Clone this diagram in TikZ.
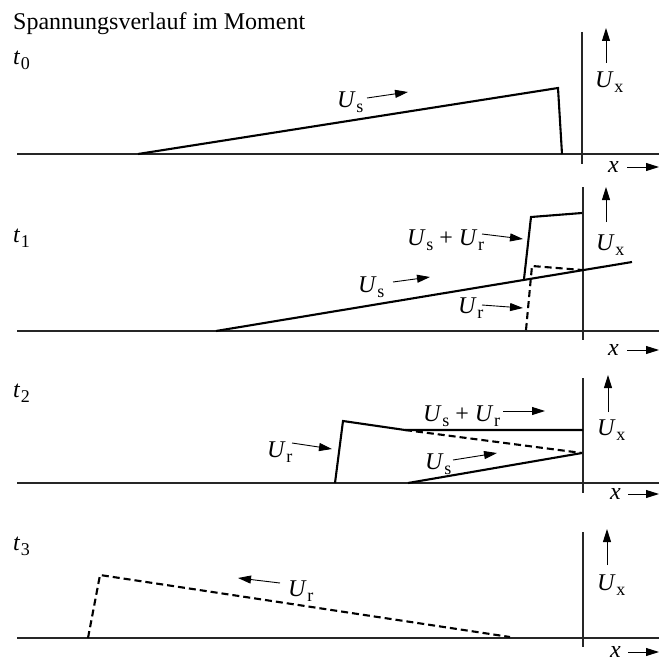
\documentclass[tikz,border=0pt]{standalone}
\usepackage{fontspec}
\setmainfont{Liberation Serif}
\usetikzlibrary{arrows.meta}
\newcommand{\Var}[2]{\textit{#1}\kern0.5pt\raisebox{-5pt}{\fontsize{18}{18}\selectfont #2}}
\begin{document}
\begin{tikzpicture}[x=1pt,y=-1pt,
  axisline/.style={line width=1.1pt, draw=black!85},
  curve/.style={line width=2.1pt, line join=miter},
  dsh/.style={curve, dash pattern=on 7pt off 4pt},
  lab/.style={inner sep=0pt, anchor=base west, font=\fontsize{24}{28}\selectfont},
  arr/.style={line width=0.9pt, -{Triangle[length=13pt,width=8pt]}}]
\useasboundingbox (0,0) rectangle (659,661);

\node[lab] (title) at (13,30) {Spannungsverlauf im Moment};

% ---------- panel t0 ----------
\node[lab] (t0) at (13,65) {\Var{t}{0}};
\coordinate (b0l) at (17,154); \coordinate (b0r) at (659,154);
\draw[axisline] (b0l) -- (b0r);
\coordinate (a0t) at (582,32); \coordinate (a0b) at (582,164);
\draw[axisline] (a0t) -- (a0b);
\coordinate (u0s) at (606,63); \coordinate (u0e) at (606,28);
\draw[arr] (u0s) -- (u0e);
\node[lab] (ux0) at (595,88) {\Var{U}{x}};
\node[lab] (x0) at (608,172) {\textit{x}};
\coordinate (x0s) at (627,167); \coordinate (x0e) at (659,167);
\draw[arr] (x0s) -- (x0e);
\coordinate (p0a) at (138,154); \coordinate (p0b) at (558,88); \coordinate (p0c) at (562,154);
\draw[curve] (p0a) -- (p0b) -- (p0c);
\node[lab] (us0) at (337,107) {\Var{U}{s}};
\coordinate (us0s) at (367,98); \coordinate (us0e) at (408,92);
\draw[arr] (us0s) -- (us0e);

% ---------- panel t1 ----------
\node[lab] (t1) at (13,242) {\Var{t}{1}};
\coordinate (b1l) at (17,331); \coordinate (b1r) at (659,331);
\draw[axisline] (b1l) -- (b1r);
\coordinate (a1t) at (583,187); \coordinate (a1b) at (583,340);
\draw[axisline] (a1t) -- (a1b);
\coordinate (u1s) at (606,222); \coordinate (u1e) at (606,187);
\draw[arr] (u1s) -- (u1e);
\node[lab] (ux1) at (596,250) {\Var{U}{x}};
\node[lab] (x1) at (608,355) {\textit{x}};
\coordinate (x1s) at (627,350); \coordinate (x1e) at (659,350);
\draw[arr] (x1s) -- (x1e);
\coordinate (p1a) at (216,331); \coordinate (p1b) at (632,262);
\draw[curve] (p1a) -- (p1b);
\coordinate (p1c) at (524,279); \coordinate (p1d) at (531,217); \coordinate (p1e) at (582,213);
\draw[curve] (p1c) -- (p1d) -- (p1e);
\coordinate (p1f) at (526,330); \coordinate (p1g) at (532,266); \coordinate (p1h) at (582,270);
\draw[dsh] (p1f) -- (p1g) -- (p1h);
\node[lab] (usr1) at (407,245) {\Var{U}{s} + \Var{U}{r}};
\coordinate (usr1s) at (482,234); \coordinate (usr1e) at (523,239);
\draw[arr] (usr1s) -- (usr1e);
\node[lab] (us1) at (358,292) {\Var{U}{s}};
\coordinate (us1s) at (393,282); \coordinate (us1e) at (430,277);
\draw[arr] (us1s) -- (us1e);
\node[lab] (ur1) at (458,313) {\Var{U}{r}};
\coordinate (ur1s) at (482,305); \coordinate (ur1e) at (523,308);
\draw[arr] (ur1s) -- (ur1e);

% ---------- panel t2 ----------
\node[lab] (t2) at (13,397) {\Var{t}{2}};
\coordinate (b2l) at (17,483); \coordinate (b2r) at (659,483);
\draw[axisline] (b2l) -- (b2r);
\coordinate (a2t) at (583,378); \coordinate (a2b) at (583,493);
\draw[axisline] (a2t) -- (a2b);
\coordinate (u2s) at (608,412); \coordinate (u2e) at (608,375);
\draw[arr] (u2s) -- (u2e);
\node[lab] (ux2) at (597,435) {\Var{U}{x}};
\node[lab] (x2) at (610,499) {\textit{x}};
\coordinate (x2s) at (628,494); \coordinate (x2e) at (659,494);
\draw[arr] (x2s) -- (x2e);
\coordinate (p2a) at (335,483); \coordinate (p2b) at (343,421); \coordinate (p2c) at (405,430); \coordinate (p2d) at (583,430);
\draw[curve] (p2a) -- (p2b) -- (p2c) -- (p2d);
\coordinate (p2e) at (582,453);
\draw[dsh] (p2c) -- (p2e);
\coordinate (p2f) at (408,483);
\draw[curve] (p2f) -- (p2e);
\node[lab] (usr2) at (423,421) {\Var{U}{s} + \Var{U}{r}};
\coordinate (usr2s) at (503,411); \coordinate (usr2e) at (545,411);
\draw[arr] (usr2s) -- (usr2e);
\node[lab] (ur2) at (267,457) {\Var{U}{r}};
\coordinate (ur2s) at (292,443); \coordinate (ur2e) at (332,449);
\draw[arr] (ur2s) -- (ur2e);
\node[lab] (us2) at (425,469) {\Var{U}{s}};
\coordinate (us2s) at (453,460); \coordinate (us2e) at (497,453);
\draw[arr] (us2s) -- (us2e);

% ---------- panel t3 ----------
\node[lab] (t3) at (13,550) {\Var{t}{3}};
\coordinate (b3l) at (17,638); \coordinate (b3r) at (659,638);
\draw[axisline] (b3l) -- (b3r);
\coordinate (a3t) at (583,532); \coordinate (a3b) at (583,647);
\draw[axisline] (a3t) -- (a3b);
\coordinate (u3s) at (607,565); \coordinate (u3e) at (607,529);
\draw[arr] (u3s) -- (u3e);
\node[lab] (ux3) at (597,590) {\Var{U}{x}};
\node[lab] (x3) at (610,657) {\textit{x}};
\coordinate (x3s) at (628,652); \coordinate (x3e) at (659,652);
\draw[arr] (x3s) -- (x3e);
\coordinate (p3a) at (88,638); \coordinate (p3b) at (100,575); \coordinate (p3c) at (510,637);
\draw[dsh] (p3a) -- (p3b) -- (p3c);
\node[lab] (ur3) at (288,596) {\Var{U}{r}};
\coordinate (ur3s) at (280,583); \coordinate (ur3e) at (238,578);
\draw[arr] (ur3s) -- (ur3e);
\end{tikzpicture}
\end{document}
